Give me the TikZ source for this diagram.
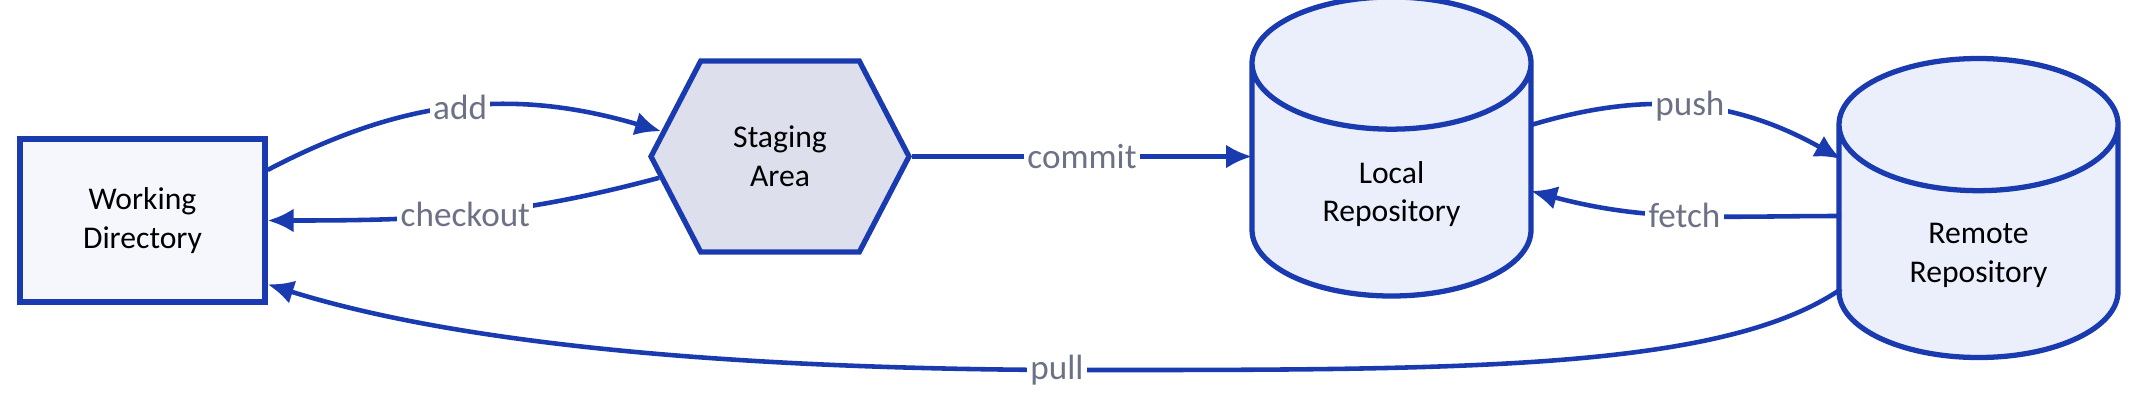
\documentclass[tikz,border=0pt]{standalone}
\usepackage{fontspec}
\setmainfont{Carlito}
\usetikzlibrary{shapes.geometric,shapes.symbols,arrows.meta}
\definecolor{gitblue}{HTML}{1A3BB0}
\definecolor{lblgray}{HTML}{6C7185}
\definecolor{wdfill}{HTML}{F5F7FD}
\definecolor{stgfill}{HTML}{DDE0EC}
\definecolor{repofill}{HTML}{EAEFFB}

\begin{document}
\begin{tikzpicture}
   \tikzstyle{every node}=[font=\fontsize{9}{11}\selectfont, align=center]
   \tikzstyle{box}=[draw=gitblue, fill=wdfill, line width=1.5pt, minimum width=2.45cm, minimum height=1.63cm]
   \tikzstyle{stage}=[signal, signal to=east and west, signal pointer angle=125, draw=gitblue, fill=stgfill, line width=1.5pt, minimum width=2.58cm, minimum height=1.91cm]
   \tikzstyle{repo}=[cylinder, shape border rotate=90, aspect=0.82, anchor=shape center, draw=gitblue, fill=repofill, line width=1.5pt, minimum width=2.79cm, minimum height=2.99cm]
   \tikzstyle{link}=[draw=gitblue, line width=1.3pt, -{Latex[length=2.6mm,width=2.4mm]}]
   \tikzstyle{lbl}=[fill=white, text=lblgray, font=\fontsize{10}{12}\selectfont, inner sep=1pt]

\useasboundingbox (0,0) rectangle (21.34,4.12);

\node[box] (wd) at (1.425,1.915) {Working\\Directory};
\node[stage] (stg) at (7.80,2.555) {Staging\\Area};
\node[repo] (local) at (13.915,2.655) {Local\\Repository};
\node[repo] (remote) at (19.785,2.04) {Remote\\Repository};

\draw[link] (wd.22) to[bend left=22] node[lbl] {add} (stg.168);
\draw[link] (stg.190) to[out=195,in=0] node[lbl] {checkout} (wd.east);
\draw[link] (stg.east) -- node[lbl] {commit} ([shift={(-1.395,-0.1)}]local.shape center);
\draw[link] ([shift={(1.395,0.215)}]local.shape center) to[bend left=23] node[lbl] {push} ([shift={(-1.375,0.49)}]remote.shape center);
\draw[link] ([shift={(-1.375,-0.08)}]remote.shape center) to[out=180,in=-15] node[lbl] {fetch} ([shift={(1.395,-0.445)}]local.shape center);
\coordinate (pullbot) at (10.57,0.42);
\draw[link] ([shift={(-1.375,-0.81)}]remote.shape center) .. controls (17.2,0.4) and (14.5,0.42) .. (pullbot) node[lbl] {pull}
    .. controls (6.5,0.44) and (4.2,0.8) .. (wd.333);

\end{tikzpicture}
\end{document}
